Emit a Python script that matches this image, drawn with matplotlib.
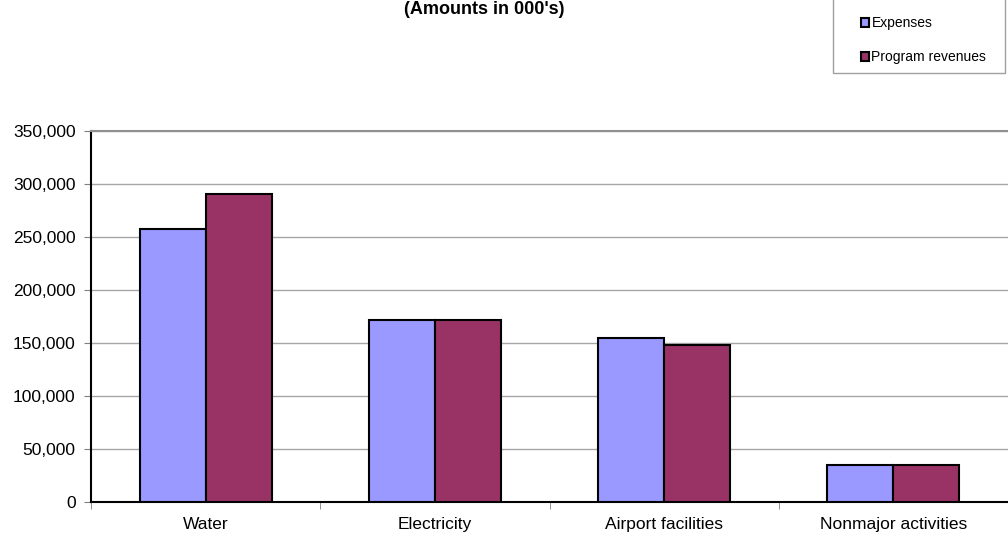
import matplotlib
matplotlib.use("Agg")
import matplotlib.pyplot as plt
from matplotlib.patches import Rectangle
import numpy as np

categories = ["Water", "Electricity", "Airport facilities", "Nonmajor activities"]
expenses = [258000, 171500, 154700, 35000]
program_revenues = [291000, 171500, 148400, 34500]
yticks = [0, 50000, 100000, 150000, 200000, 250000, 300000, 350000]

plt.rcParams["font.family"] = ["Liberation Sans", "DejaVu Sans"]

fig = plt.figure(figsize=(10.08, 5.35), dpi=100)
ax = fig.add_axes([91 / 1008, 33 / 535, 917 / 1008, 371 / 535])

x = np.arange(len(categories))
w = 0.288
ax.bar(x - w / 2, expenses, w, color="#9999FF", edgecolor="black", linewidth=1.5,
       label="Expenses", zorder=3)
ax.bar(x + w / 2, program_revenues, w, color="#993366", edgecolor="black", linewidth=1.5,
       label="Program revenues", zorder=3)

ax.set_xlim(-0.5, len(categories) - 0.5)
ax.set_ylim(0, 350000)
ax.set_yticks(yticks)
ax.set_yticklabels([f"{v:,}" for v in yticks], fontsize=12.5)
ax.set_xticks(x)
ax.set_xticklabels(categories, fontsize=12.5)
ax.set_xticks(np.arange(-0.5, len(categories)), minor=True)
ax.tick_params(axis="x", which="major", length=0, pad=11)
ax.tick_params(axis="x", which="minor", length=5, color="#808080")
ax.tick_params(axis="y", length=5, color="#808080", pad=6)
ax.yaxis.grid(True, color="#a6a6a6", linewidth=1, zorder=0)

ax.spines["right"].set_visible(False)
ax.spines["top"].set_color("#909090")
ax.spines["top"].set_linewidth(1.5)
ax.spines["left"].set_color("black")
ax.spines["left"].set_linewidth(1.5)
ax.spines["bottom"].set_color("black")
ax.spines["bottom"].set_linewidth(1.5)

fig.text(0.480, 1 - 9 / 535, "(Amounts in 000's)", ha="center", va="center",
         fontsize=13, fontweight="bold")

# legend box (top edge sits above the picture)
fig.patches.append(Rectangle((833 / 1008, 1 - 73 / 535), 172 / 1008, 80 / 535,
                             transform=fig.transFigure, fill=False,
                             edgecolor="#a0a0a0", linewidth=1))
leg = fig.legend(loc="upper left", bbox_to_anchor=(861 / 1008, 1 - 16 / 535),
                 fontsize=10, frameon=False, handlelength=0.6, handleheight=0.6,
                 handletextpad=0.15, labelspacing=1.45, borderpad=0, borderaxespad=0)
for h in leg.legend_handles:
    h.set_linewidth(1.5)

fig.savefig("out.png", dpi=100)
